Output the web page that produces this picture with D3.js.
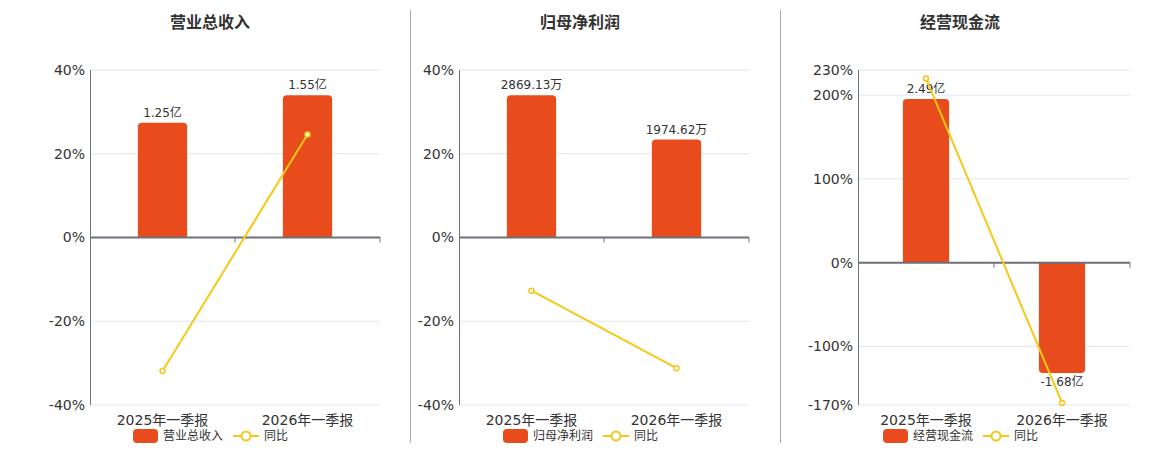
<!DOCTYPE html>
<html>
<head>
<meta charset="utf-8">
<script src="https://cdn.jsdelivr.net/npm/d3@7"></script>
<style>
  body { margin: 0; background: #fff; }
  text { font-family: "DejaVu Sans", "Noto Sans CJK SC", sans-serif; }
</style>
</head>
<body>
<div class="canvas"></div>
<script>
const categories = ['2025年一季报', '2026年一季报'];

const revenueValues = [1.25, 1.55];
const revenueLabels = ['1.25亿', '1.55亿'];
const revenueYoy = [-31.9, 24.6];
const revenueTicks = [-40, -20, 0, 20, 40];

const profitValues = [2869.13, 1974.62];
const profitLabels = ['2869.13万', '1974.62万'];
const profitYoy = [-12.7, -31.2];
const profitTicks = [-40, -20, 0, 20, 40];

const cashValues = [2.49, -1.68];
const cashLabels = ['2.49亿', '-1.68亿'];
const cashYoy = [220, -167.5];
const cashTicks = [-170, -100, 0, 100, 200, 230];

const titles = ['营业总收入', '归母净利润', '经营现金流'];

const barColor = '#e84c1d';
const lineColor = '#f5c916';

const svg = d3.select('.canvas')
  .append('svg')
  .attr('width', 1160)
  .attr('height', 450);

const plotTop = 70, plotBottom = 405;

const panels = [
  { title: titles[0], values: revenueValues, labels: revenueLabels, yoy: revenueYoy, ticks: revenueTicks, left: 90, right: 380, center: 210 },
  { title: titles[1], values: profitValues, labels: profitLabels, yoy: profitYoy, ticks: profitTicks, left: 459, right: 749, center: 580 },
  { title: titles[2], values: cashValues, labels: cashLabels, yoy: cashYoy, ticks: cashTicks, left: 858, right: 1130, center: 960 }
];

// separators
[410.5, 780.5].forEach(x => {
  svg.append('line')
    .attr('x1', x).attr('x2', x)
    .attr('y1', 10).attr('y2', 443)
    .attr('stroke', '#aaa');
});

panels.forEach(drawPanel);

function barPath(x, w, y0, y1, r) {
  // rounded at the far end from zero
  const h = Math.abs(y1 - y0);
  r = Math.min(r, h, w / 2);
  if (y1 < y0) {
    return `M${x},${y0}V${y1 + r}Q${x},${y1} ${x + r},${y1}H${x + w - r}Q${x + w},${y1} ${x + w},${y1 + r}V${y0}Z`;
  }
  return `M${x},${y0}V${y1 - r}Q${x},${y1} ${x + r},${y1}H${x + w - r}Q${x + w},${y1} ${x + w},${y1 - r}V${y0}Z`;
}

function drawPanel(p) {
  const g = svg.append('g');

  const x = d3.scaleBand()
    .domain(categories)
    .range([p.left, p.right]);

  const y = d3.scaleLinear()
    .domain(d3.extent(p.ticks))
    .range([plotBottom, plotTop]);

  const y0 = y(0);
  const m = d3.max(p.values, v => Math.abs(v)) / 0.85;
  const ratio = (plotBottom - y0) / (y0 - plotTop);
  const yBar = d3.scaleLinear()
    .domain([-m * ratio, m])
    .range([plotBottom, plotTop]);

  // title
  g.append('text')
    .attr('x', p.center)
    .attr('y', 28)
    .attr('text-anchor', 'middle')
    .attr('font-size', 16)
    .attr('font-weight', 'bold')
    .attr('fill', '#333')
    .text(p.title);

  // grid
  g.selectAll('.grid')
    .data(p.ticks.filter(t => t !== 0))
    .join('line')
    .attr('x1', p.left).attr('x2', p.right)
    .attr('y1', d => y(d)).attr('y2', d => y(d))
    .attr('stroke', '#e0e6f1');

  // y labels
  g.selectAll('.ylab')
    .data(p.ticks)
    .join('text')
    .attr('x', p.left - 5)
    .attr('y', d => y(d))
    .attr('dy', '0.35em')
    .attr('text-anchor', 'end')
    .attr('font-size', 14)
    .attr('fill', '#333')
    .text(d => d + '%');

  // left axis line
  g.append('line')
    .attr('x1', p.left + 0.5).attr('x2', p.left + 0.5)
    .attr('y1', plotTop).attr('y2', plotBottom)
    .attr('stroke', '#6e7079');

  // bars
  const bw = x.bandwidth() * 0.34;
  g.selectAll('.bar')
    .data(p.values)
    .join('path')
    .attr('fill', barColor)
    .attr('d', (d, i) => barPath(x(categories[i]) + (x.bandwidth() - bw) / 2, bw, y0, yBar(d), 4));

  // zero axis
  g.append('line')
    .attr('x1', p.left).attr('x2', p.right)
    .attr('y1', y0).attr('y2', y0)
    .attr('stroke', '#6e7079')
    .attr('stroke-width', 2);

  g.selectAll('.tick')
    .data(categories)
    .join('line')
    .attr('x1', d => x(d) + x.bandwidth()).attr('x2', d => x(d) + x.bandwidth())
    .attr('y1', y0).attr('y2', y0 + 5)
    .attr('stroke', '#6e7079');

  // bar labels
  g.selectAll('.blab')
    .data(p.values)
    .join('text')
    .attr('x', (d, i) => x(categories[i]) + x.bandwidth() / 2)
    .attr('y', d => d >= 0 ? yBar(d) - 6 : yBar(d) + 13)
    .attr('text-anchor', 'middle')
    .attr('font-size', 12)
    .attr('fill', '#333')
    .text((d, i) => p.labels[i]);

  // x labels
  g.selectAll('.xlab')
    .data(categories)
    .join('text')
    .attr('x', d => x(d) + x.bandwidth() / 2)
    .attr('y', 425)
    .attr('text-anchor', 'middle')
    .attr('font-size', 14)
    .attr('fill', '#333')
    .text(d => d);

  // yoy line
  const line = d3.line()
    .x((d, i) => x(categories[i]) + x.bandwidth() / 2)
    .y(d => y(d));

  g.append('path')
    .datum(p.yoy)
    .attr('d', line)
    .attr('fill', 'none')
    .attr('stroke', lineColor)
    .attr('stroke-width', 2);

  g.selectAll('.pt')
    .data(p.yoy)
    .join('circle')
    .attr('cx', (d, i) => x(categories[i]) + x.bandwidth() / 2)
    .attr('cy', d => y(d))
    .attr('r', 2.5)
    .attr('fill', '#fff')
    .attr('stroke', lineColor)
    .attr('stroke-width', 1.5);

  // legend
  const lg = g.append('g').attr('transform', `translate(${p.center},436)`);
  lg.append('rect')
    .attr('x', -77).attr('y', -7)
    .attr('width', 25).attr('height', 14)
    .attr('rx', 4)
    .attr('fill', barColor);
  lg.append('text')
    .attr('x', -47).attr('y', 0)
    .attr('dy', '0.35em')
    .attr('font-size', 12)
    .attr('fill', '#333')
    .text(p.title);
  lg.append('line')
    .attr('x1', 23).attr('x2', 49)
    .attr('y1', 0).attr('y2', 0)
    .attr('stroke', lineColor)
    .attr('stroke-width', 2);
  lg.append('circle')
    .attr('cx', 36).attr('cy', 0)
    .attr('r', 4.5)
    .attr('fill', '#fff')
    .attr('stroke', lineColor)
    .attr('stroke-width', 2);
  lg.append('text')
    .attr('x', 54).attr('y', 0)
    .attr('dy', '0.35em')
    .attr('font-size', 12)
    .attr('fill', '#333')
    .text('同比');
}
</script>
</body>
</html>
